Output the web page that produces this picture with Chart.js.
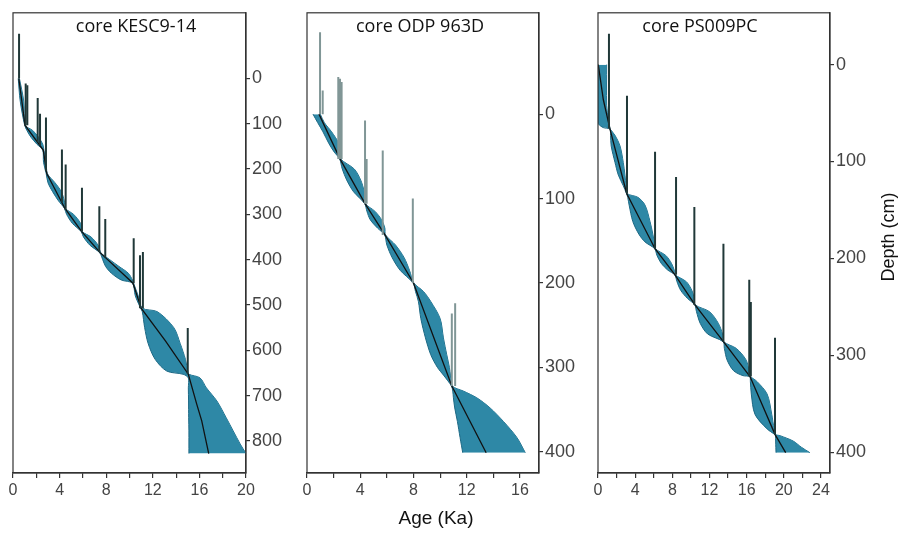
<!DOCTYPE html>
<html>
<head>
<meta charset="utf-8">
<script src="https://cdn.jsdelivr.net/npm/chart.js@4.4.1/dist/chart.umd.min.js"></script>
<style>
  html, body { margin: 0; padding: 0; background: #fff; }
  #wrap { position: relative; width: 901px; height: 533px; }
  #wrap canvas { position: absolute; left: 0; top: 0; }
</style>
</head>
<body>
<div id="wrap">
  <canvas id="c1" width="901" height="533"></canvas>
  <canvas id="c2" width="901" height="533"></canvas>
  <canvas id="c3" width="901" height="533"></canvas>
</div>
<script>
// ---------- core KESC9-14 ----------
const kescDepth = [0, 50, 103, 115, 130, 145, 158, 185, 210, 230, 250, 270, 287, 300, 320, 338, 350, 368, 385, 400, 415, 430, 445, 452, 480, 507, 515, 550, 585, 620, 646, 653, 661, 683, 712, 749, 778, 807, 828];
const kescAgeMin = [0.45, 0.62, 1.00, 1.2, 1.55, 2.05, 2.55, 2.62, 2.85, 3.0, 3.4, 3.9, 4.42, 4.6, 5.1, 5.85, 6.05, 6.6, 7.45, 7.7, 7.95, 8.45, 9.3, 10.25, 10.5, 10.95, 11.1, 11.3, 11.6, 12.2, 13.2, 14.6, 15.05, 15.05, 15.07, 15.08, 15.1, 15.1, 15.1];
const kescAgeMax = [0.55, 0.92, 1.06, 1.7, 2.2, 2.55, 2.65, 2.85, 2.95, 3.6, 4.15, 4.4, 4.5, 5.2, 5.8, 5.95, 6.7, 7.3, 7.55, 8.3, 9.1, 9.9, 10.25, 10.35, 10.75, 11.1, 12.4, 13.8, 14.35, 14.8, 15.0, 15.1, 16.05, 16.6, 17.5, 18.3, 18.9, 19.5, 20.0];
const kescMedDepth = [0, 103, 158, 210, 287, 338, 385, 452, 507, 580, 653, 719, 756, 828];
const kescMedAge = [0.5, 1.03, 2.6, 2.9, 4.46, 5.9, 7.5, 10.3, 11.0, 13.1, 15.05, 15.77, 16.2, 16.8];
const kescDateAge = [0.52, 1.09, 1.23, 2.12, 2.32, 2.83, 4.2, 4.52, 5.92, 7.41, 7.92, 10.36, 10.9, 11.15, 15.0];
const kescDateDepth = [0, 103, 103, 141, 148, 205, 274, 290, 338, 383, 395, 452, 507, 507, 653];
const kescDatePeak = [-99, 11, 15, 43, 78, 86, 157, 190, 241, 282, 310, 353, 390, 383, 551];
const kescAgeTicks = [0, 2, 4, 6, 8, 10, 12, 14, 16, 18, 20];
const kescAgeLabels = ['0', '', '4', '', '8', '', '12', '', '16', '', '20'];
const kescDepthTicks = [0, 100, 200, 300, 400, 500, 600, 700, 800];

// ---------- core ODP 963D ----------
const odpDepth = [0, 10, 21, 35, 45, 53, 65, 78, 92, 106, 115, 125, 135, 143, 155, 170, 185, 200, 210, 222, 242, 265, 285, 300, 310, 322, 328, 336, 348, 364, 383, 401];
const odpAgeMin = [0.45, 0.8, 1.2, 1.65, 2.05, 2.45, 2.65, 2.98, 3.5, 4.33, 4.5, 4.75, 5.3, 5.83, 6.0, 6.4, 7.0, 7.97, 8.15, 8.37, 8.55, 8.9, 9.3, 9.8, 10.3, 10.85, 10.95, 11.0, 11.1, 11.3, 11.5, 11.7];
const odpAgeMax = [1.0, 1.3, 1.85, 2.4, 2.5, 2.52, 3.55, 4.03, 4.3, 4.4, 5.1, 5.6, 5.85, 5.9, 6.65, 7.3, 7.7, 8.03, 8.75, 9.3, 10.0, 10.25, 10.5, 10.7, 10.78, 10.92, 11.75, 12.76, 13.76, 14.76, 15.77, 16.4];
const odpMedDepth = [0, 53, 106, 143, 200, 322, 401];
const odpMedAge = [0.9, 2.48, 4.36, 5.86, 8.0, 10.88, 13.46];
const odpDateAge = [0.98, 1.18, 2.35, 2.48, 2.6, 4.36, 4.48, 5.69, 7.95, 10.88, 11.13];
const odpDateDepth = [0, 0, 53, 53, 53, 106, 106, 143, 200, 322, 322];
const odpDatePeak = [-97, -28, -44, -42, -38, 7.5, 53, 43, 100, 236, 224];
const odpAgeTicks = [0, 2, 4, 6, 8, 10, 12, 14, 16];
const odpAgeLabels = ['0', '', '4', '', '8', '', '12', '', '16'];
const odpDepthTicks = [0, 100, 200, 300, 400];

// ---------- core PS009PC ----------
const psDepth = [0, 42, 56, 61, 65, 66.5, 73, 84, 101, 114, 125, 133, 137, 145, 162, 175, 183, 190, 197, 205, 212, 217, 224, 233, 241, 248, 255, 267, 278, 286, 293, 305, 316, 321, 322, 327, 340, 361, 376, 381.6, 383, 388.5, 395, 400.5];
const psAgeMin = [0.0, 0.0, 0.0, 0.03, 0.57, 1.27, 1.35, 1.42, 1.83, 2.19, 2.72, 3.06, 3.2, 3.35, 3.75, 4.4, 5.06, 6.1, 6.35, 6.8, 7.5, 8.26, 8.5, 8.9, 9.6, 10.41, 10.6, 11.0, 11.8, 13.47, 13.6, 13.9, 14.6, 15.6, 16.33, 16.4, 16.5, 16.9, 18.2, 19.0, 19.1, 19.12, 19.14, 19.16];
const psAgeMax = [0.93, 0.93, 1.1, 1.2, 1.27, 1.31, 1.83, 2.37, 2.72, 2.9, 3.02, 3.12, 4.3, 5.06, 5.6, 5.9, 6.05, 6.18, 7.3, 7.9, 8.2, 8.32, 9.5, 10.1, 10.35, 10.47, 12.0, 12.95, 13.4, 13.53, 14.9, 15.95, 16.25, 16.33, 16.39, 17.1, 18.2, 18.7, 18.95, 19.1, 19.6, 21.0, 21.9, 22.8];
const psMedDepth = [0, 36, 66.5, 133, 190, 217, 248, 286, 322, 381.6, 400.5];
const psMedAge = [0.03, 0.57, 1.29, 3.09, 6.14, 8.29, 10.44, 13.5, 16.36, 19.05, 20.2];
const psDateAge = [1.18, 3.12, 6.14, 8.4, 10.37, 13.5, 16.28, 16.45, 19.05];
const psDateDepth = [66, 133, 190, 217, 248, 286, 322, 322, 382];
const psDatePeak = [-32, 32, 90, 116, 147, 185, 222, 245, 282];
const psAgeTicks = [0, 2, 4, 6, 8, 10, 12, 14, 16, 18, 20, 22, 24];
const psAgeLabels = ['0', '', '4', '', '8', '', '12', '', '16', '', '20', '', '24'];
const psDepthTicks = [0, 100, 200, 300, 400];

// ---------- styles ----------
const ENVELOPE_FILL = 'rgb(46,136,166)';
const ENVELOPE_EDGE = 'rgb(28,104,132)';
const AXIS_COLOR = '#333';
const TICK_COLOR = '#444';

Chart.defaults.font.family = '"Liberation Sans", Arial, sans-serif';
Chart.defaults.animation = false;

// plot box outline, core name and the shared axis titles
const framePlugin = {
  id: 'frame',
  afterDraw(chart, args, opts) {
    const { ctx, chartArea: a } = chart;
    ctx.save();
    ctx.strokeStyle = AXIS_COLOR;
    ctx.lineWidth = 1.2;
    ctx.strokeRect(a.left, a.top, a.right - a.left, a.bottom - a.top);
    ctx.fillStyle = '#111';
    ctx.textAlign = 'center';
    ctx.textBaseline = 'middle';
    ctx.font = '18px "Open Sans", sans-serif';
    ctx.fillText(opts.title, opts.titleX, a.top + 14);
    (opts.texts || []).forEach(t => {
      ctx.save();
      ctx.font = t.font;
      ctx.translate(t.x, t.y);
      ctx.rotate(t.rotate || 0);
      ctx.fillText(t.text, 0, 0);
      ctx.restore();
    });
    ctx.restore();
  }
};

function makeCore(id, c) {
  const datasets = [];
  // calibrated date distributions
  c.dateAge.forEach((age, i) => {
    datasets.push({
      data: [{ x: age, y: c.dateDepth[i] }, { x: age, y: c.datePeak[i] }],
      borderColor: c.dateColor,
      borderWidth: 2,
      pointRadius: 0,
      fill: false,
      order: 0
    });
  });
  // median age-depth model
  datasets.push({
    data: c.medDepth.map((d, i) => ({ x: c.medAge[i], y: d })),
    borderColor: '#111',
    borderWidth: 1.3,
    pointRadius: 0,
    fill: false,
    order: 1
  });
  // uncertainty range: young edge filled to the old edge
  datasets.push({
    data: c.depth.map((d, i) => ({ x: c.ageMin[i], y: d })),
    borderColor: ENVELOPE_EDGE,
    borderWidth: 1,
    backgroundColor: ENVELOPE_FILL,
    pointRadius: 0,
    tension: 0.3,
    fill: '+1',
    order: 2
  });
  datasets.push({
    data: c.depth.map((d, i) => ({ x: c.ageMax[i], y: d })),
    borderColor: ENVELOPE_EDGE,
    borderWidth: 1,
    pointRadius: 0,
    tension: 0.3,
    fill: false,
    order: 2
  });

  return new Chart(document.getElementById(id), {
    type: 'line',
    data: { datasets },
    plugins: [framePlugin],
    options: {
      indexAxis: 'y',
      responsive: false,
      devicePixelRatio: 1,
      animation: false,
      events: [],
      layout: { padding: { left: c.padLeft, right: c.padRight, top: 10, bottom: 0 } },
      plugins: {
        legend: { display: false },
        tooltip: { enabled: false },
        frame: { title: c.title, titleX: c.titleX, texts: c.texts }
      },
      scales: {
        x: {
          type: 'linear',
          position: 'bottom',
          min: 0,
          max: c.xMax,
          afterBuildTicks: s => { s.ticks = c.ageTicks.map(v => ({ value: v })); },
          afterFit: s => { s.height = 60; },
          ticks: {
            autoSkip: false,
            maxRotation: 0,
            padding: 3,
            color: TICK_COLOR,
            font: { size: 16 },
            callback: (v, i) => c.ageLabels[i]
          },
          grid: { drawOnChartArea: false, drawTicks: true, tickLength: 5, color: AXIS_COLOR, lineWidth: 1.2 },
          border: { display: true, color: AXIS_COLOR, width: 1.2 }
        },
        y: {
          type: 'linear',
          position: 'right',
          reverse: true,
          min: c.yMin,
          max: c.yMax,
          afterBuildTicks: s => { s.ticks = c.depthTicks.map(v => ({ value: v })); },
          afterFit: s => { s.width = 50; },
          ticks: {
            autoSkip: false,
            padding: 2,
            color: TICK_COLOR,
            font: { size: 18 },
            callback: v => String(v)
          },
          grid: { drawOnChartArea: false, drawTicks: true, tickLength: 4, color: AXIS_COLOR, lineWidth: 1.2 },
          border: { display: true, color: AXIS_COLOR, width: 1.2 }
        }
      }
    }
  });
}

makeCore('c1', {
  title: 'core KESC9-14', titleX: 136,
  depth: kescDepth, ageMin: kescAgeMin, ageMax: kescAgeMax,
  medDepth: kescMedDepth, medAge: kescMedAge,
  dateAge: kescDateAge, dateDepth: kescDateDepth, datePeak: kescDatePeak,
  dateColor: 'rgb(32,56,56)',
  ageTicks: kescAgeTicks, ageLabels: kescAgeLabels, depthTicks: kescDepthTicks,
  xMax: 20, yMin: -145, yMax: 871,
  padLeft: 13, padRight: 605
});

makeCore('c2', {
  title: 'core ODP 963D', titleX: 420,
  depth: odpDepth, ageMin: odpAgeMin, ageMax: odpAgeMax,
  medDepth: odpMedDepth, medAge: odpMedAge,
  dateAge: odpDateAge, dateDepth: odpDateDepth, datePeak: odpDatePeak,
  dateColor: 'rgb(128,150,150)',
  ageTicks: odpAgeTicks, ageLabels: odpAgeLabels, depthTicks: odpDepthTicks,
  xMax: 17.43, yMin: -120, yMax: 425,
  padLeft: 307, padRight: 312,
  texts: [{ text: 'Age (Ka)', x: 436, y: 519, font: '19px "Liberation Sans", Arial, sans-serif' }]
});

makeCore('c3', {
  title: 'core PS009PC', titleX: 700,
  depth: psDepth, ageMin: psAgeMin, ageMax: psAgeMax,
  medDepth: psMedDepth, medAge: psMedAge,
  dateAge: psDateAge, dateDepth: psDateDepth, datePeak: psDatePeak,
  dateColor: 'rgb(32,56,56)',
  ageTicks: psAgeTicks, ageLabels: psAgeLabels, depthTicks: psDepthTicks,
  xMax: 24.97, yMin: -53.5, yMax: 421.5,
  padLeft: 598, padRight: 21,
  texts: [{ text: 'Depth (cm)', x: 889, y: 237, rotate: -Math.PI / 2, font: '18px "Liberation Sans", Arial, sans-serif' }]
});
</script>
</body>
</html>
